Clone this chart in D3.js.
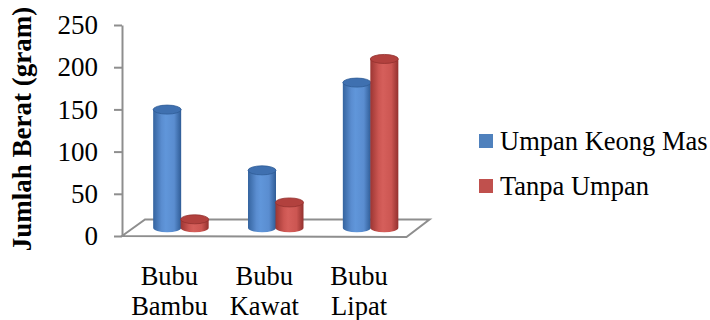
<!DOCTYPE html>
<html>
<head>
<meta charset="utf-8">
<script src="https://cdn.jsdelivr.net/npm/d3@7"></script>
<style>
  html, body { margin: 0; padding: 0; background: #fff; }
  svg { display: block; }
  text { font-family: "Liberation Serif", "Times New Roman", serif; fill: #000; }
</style>
</head>
<body>
<svg id="chart" width="710" height="320"></svg>
<script>
// Catch weight per trap type, with and without bait
const categories = ["Bubu Bambu", "Bubu Kawat", "Bubu Lipat"];
const seriesNames = ["Umpan Keong Mas", "Tanpa Umpan"];
const umpanKeongMas = [140, 68, 172];
const tanpaUmpan = [10, 30, 200];
const yTicks = [0, 50, 100, 150, 200, 250];
const yTitle = "Jumlah Berat (gram)";

const seriesValues = [umpanKeongMas, tanpaUmpan];
const seriesColors = [
  { edge: "#35649f", mid: "#6096da", light: "#5a8dd0", top: "#3f70b0", rim: "#2f5c96" },
  { edge: "#9c3633", mid: "#d55f5b", light: "#cc5652", top: "#b2413e", rim: "#93312e" }
];

const svg = d3.select("#chart");

// floor / depth geometry of the pseudo-3D plot
const depthX = 23, depthY = -16.5;
const y = d3.scaleLinear().domain([0, 250]).range([236, 25]);
const x = d3.scaleBand().domain(categories).range([122, 406.5]);
const inner = d3.scaleBand().domain(seriesNames).range([-27.5, 27.5]);
const radius = 14, ry = 4.5;

// gradients for cylinder bodies
const defs = svg.append("defs");
seriesColors.forEach((c, i) => {
  const g = defs.append("linearGradient").attr("id", "cyl" + i)
    .attr("x1", "0%").attr("x2", "100%").attr("y1", "0%").attr("y2", "0%");
  g.append("stop").attr("offset", "0%").attr("stop-color", c.edge);
  g.append("stop").attr("offset", "30%").attr("stop-color", c.light);
  g.append("stop").attr("offset", "45%").attr("stop-color", c.mid);
  g.append("stop").attr("offset", "75%").attr("stop-color", c.light);
  g.append("stop").attr("offset", "100%").attr("stop-color", c.rim);
});

const gridColor = "#8e8e8e";

// floor parallelogram
const y0 = y(0);
const x0 = x.range()[0], x1 = x.range()[1];
svg.append("path")
  .attr("d", `M${x0},${y0} L${x0 + depthX},${y0 + depthY} L${x1 + depthX},${y0 + depthY} L${x1},${y0 + 1} Z`)
  .attr("fill", "none").attr("stroke", gridColor).attr("stroke-width", 2)
  .attr("stroke-linejoin", "miter");

// value axis
const axis = d3.axisLeft(y).tickValues(yTicks).tickSize(8).tickSizeOuter(0).tickPadding(16);
const axG = svg.append("g").attr("transform", `translate(${x0},0)`).call(axis);
axG.select(".domain").attr("stroke", gridColor).attr("stroke-width", 2);
axG.selectAll(".tick line").attr("stroke", gridColor).attr("stroke-width", 2);
axG.selectAll(".tick text").attr("font-size", 27).attr("font-family", "Liberation Serif")
  .attr("fill", "#000");

// cylinders
const bars = [];
categories.forEach((cat, ci) => {
  seriesNames.forEach((s, si) => {
    bars.push({ cat, si, value: seriesValues[si][ci] });
  });
});

const barG = svg.append("g");
bars.forEach(b => {
  const cx = x(b.cat) + x.bandwidth() / 2 + depthX / 2 + inner(seriesNames[b.si]) + inner.bandwidth() / 2;
  const yb = y(0) + depthY / 2;
  const yt = y(b.value) + depthY / 2;
  const c = seriesColors[b.si];
  const g = barG.append("g");
  g.append("path")
    .attr("d", `M${cx - radius},${yt} L${cx - radius},${yb} A${radius},${ry} 0 0 0 ${cx + radius},${yb} L${cx + radius},${yt} Z`)
    .attr("fill", `url(#cyl${b.si})`);
  g.append("ellipse")
    .attr("cx", cx).attr("cy", yt).attr("rx", radius).attr("ry", ry)
    .attr("fill", c.top).attr("stroke", c.rim).attr("stroke-width", 0.8);
});

// category labels (two lines each)
const catG = svg.append("g");
categories.forEach(cat => {
  const parts = cat.split(" ");
  const t = catG.append("text")
    .attr("x", x(cat) + x.bandwidth() / 2)
    .attr("y", 285)
    .attr("text-anchor", "middle")
    .attr("font-size", 26.5);
  parts.forEach((p, i) => {
    t.append("tspan").attr("x", x(cat) + x.bandwidth() / 2).attr("dy", i === 0 ? 0 : 30).text(p);
  });
});

// axis title
svg.append("text")
  .attr("transform", "translate(31,129) rotate(-90)")
  .attr("text-anchor", "middle")
  .attr("font-size", 27)
  .attr("font-weight", "bold")
  .text(yTitle);

// legend
const legend = svg.append("g");
seriesNames.forEach((s, i) => {
  const ly = 134 + i * 45;
  legend.append("rect").attr("x", 479).attr("y", ly).attr("width", 14).attr("height", 14)
    .attr("fill", i === 0 ? "#4f81bd" : "#c0504d");
  legend.append("text").attr("x", 500).attr("y", ly + 15.5).attr("font-size", 26.5).text(s);
});
</script>
</body>
</html>
